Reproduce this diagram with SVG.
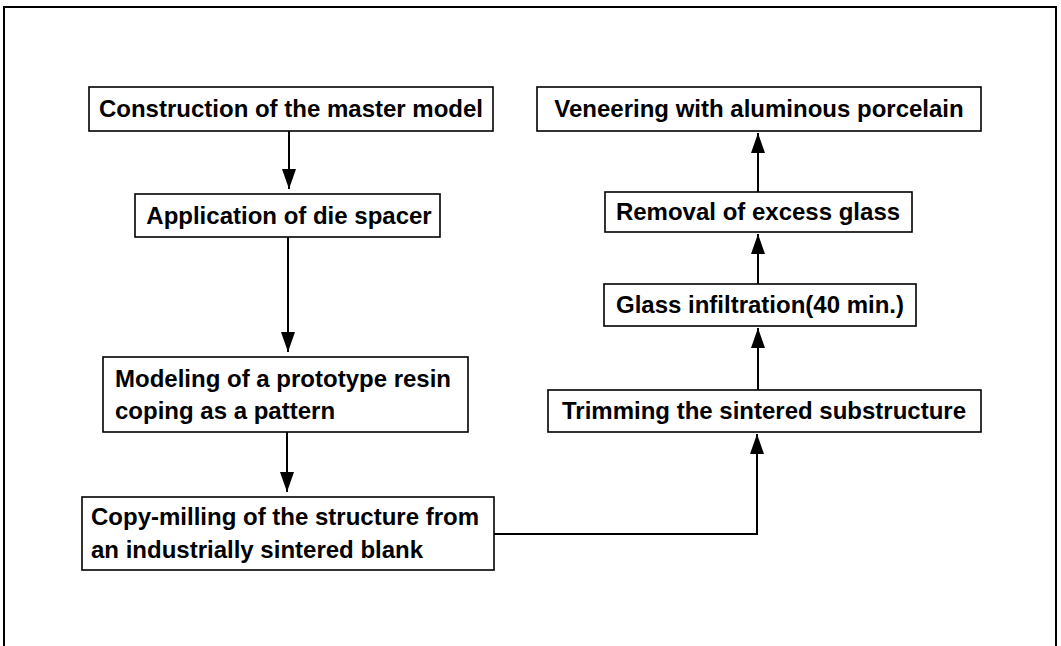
<svg xmlns="http://www.w3.org/2000/svg" width="1061" height="646" viewBox="0 0 1061 646">
<defs>
<style>
.box{fill:#fff;stroke:#000;stroke-width:1.6}
.t{font-family:"Liberation Sans",Arial,sans-serif;font-weight:bold;font-size:24px;fill:#000}
.c{text-anchor:middle}
.ln{fill:none;stroke:#000;stroke-width:2}
</style>
<marker id="ah" markerUnits="userSpaceOnUse" markerWidth="20" markerHeight="14" refX="20" refY="7" orient="auto">
<path d="M0,0 L20,7 L0,14 z" fill="#000"/>
</marker>
</defs>
<rect width="1061" height="646" fill="#fff"/>
<path d="M4,646 V7 H1056 V646" fill="none" stroke="#000" stroke-width="2"/>
<g id="connectors">
<line class="ln" x1="289" y1="131" x2="289" y2="189" marker-end="url(#ah)"/>
<line class="ln" x1="288" y1="237" x2="288" y2="352" marker-end="url(#ah)"/>
<line class="ln" x1="287" y1="432" x2="287" y2="492" marker-end="url(#ah)"/>
<polyline class="ln" points="494,534 757,534 757,434" marker-end="url(#ah)"/>
<line class="ln" x1="758" y1="390" x2="758" y2="328" marker-end="url(#ah)"/>
<line class="ln" x1="758" y1="284" x2="758" y2="234" marker-end="url(#ah)"/>
<line class="ln" x1="758" y1="192" x2="758" y2="133" marker-end="url(#ah)"/>
</g>
<g id="n1">
<rect class="box" x="89" y="87" width="404" height="44"/>
<text class="t c" x="291" y="117">Construction of the master model</text>
</g>
<g id="n2">
<rect class="box" x="135" y="194" width="305" height="43"/>
<text class="t c" x="289" y="224">Application of die spacer</text>
</g>
<g id="n3">
<rect class="box" x="103" y="357" width="365" height="75"/>
<text class="t" x="115" y="387">Modeling of a prototype resin</text>
<text class="t" x="115" y="419">coping as a pattern</text>
</g>
<g id="n4">
<rect class="box" x="82" y="497" width="412" height="73"/>
<text class="t" x="91" y="525">Copy-milling of the structure from</text>
<text class="t" x="91" y="558">an industrially sintered blank</text>
</g>
<g id="n5">
<rect class="box" x="548" y="390" width="433" height="42"/>
<text class="t c" x="764" y="419">Trimming the sintered substructure</text>
</g>
<g id="n6">
<rect class="box" x="604" y="284" width="312" height="42"/>
<text class="t c" x="760" y="313">Glass infiltration(40 min.)</text>
</g>
<g id="n7">
<rect class="box" x="605" y="192" width="307" height="40"/>
<text class="t c" x="758" y="220">Removal of excess glass</text>
</g>
<g id="n8">
<rect class="box" x="537" y="87" width="444" height="44"/>
<text class="t c" x="759" y="117">Veneering with aluminous porcelain</text>
</g>
</svg>
